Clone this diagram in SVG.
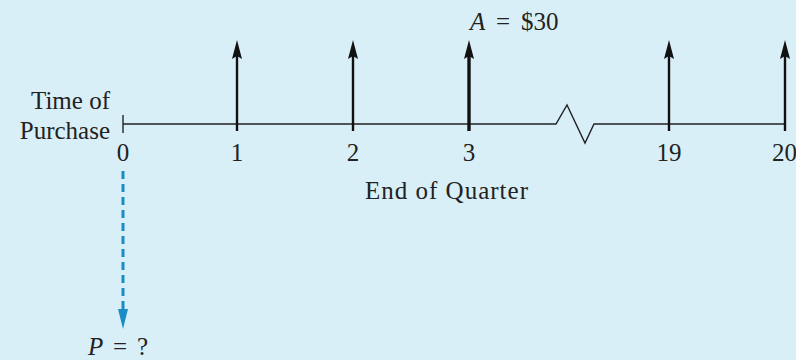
<svg xmlns="http://www.w3.org/2000/svg" width="796" height="360" viewBox="0 0 796 360">
<defs>
<path id="head" d="M0 0 L5 19 L0 16 L-5 19 Z" fill="#111"/>
<style>
text{font-family:"Liberation Serif","Times New Roman",serif;font-size:25px;fill:#222}
.arr{stroke:#111;stroke-width:2.4;fill:none}
.ax{stroke:#222;stroke-width:1.4;fill:none}
.c{text-anchor:middle}
</style>
</defs>
<rect width="796" height="360" fill="#d9eff7"/>
<g id="axis">
<path class="ax" d="M123 124 H556 L567 105 L585 143 L594 124 H785"/>
<path class="ax" d="M123 115 V133"/>
</g>
<g id="connectors">
<line class="arr" x1="237" y1="131" x2="237" y2="52"/>
<use href="#head" x="237" y="40"/>
<line class="arr" x1="353" y1="131" x2="353" y2="52"/>
<use href="#head" x="353" y="40"/>
<line class="arr" x1="469" y1="131" x2="469" y2="52" style="stroke-width:3.4"/>
<use href="#head" x="469" y="40"/>
<line class="arr" x1="669" y1="131" x2="669" y2="52"/>
<use href="#head" x="669" y="40"/>
<line class="arr" x1="785" y1="131" x2="785" y2="52"/>
<use href="#head" x="785" y="40"/>
<line x1="123" y1="171" x2="123" y2="312" stroke="#1c8cc4" stroke-width="3" stroke-dasharray="8,5"/>
<path d="M118 309 L123 329 L128 309 Z" fill="#1c8cc4"/>
</g>
<g id="labels">
<text x="110" y="109" text-anchor="end">Time of</text>
<text x="110" y="139" text-anchor="end">Purchase</text>
<text class="c" x="123" y="161">0</text>
<text class="c" x="237" y="161">1</text>
<text class="c" x="353" y="161">2</text>
<text class="c" x="469" y="161">3</text>
<text class="c" x="669" y="161">19</text>
<text x="772" y="161">20</text>
<text y="30"><tspan x="470" font-style="italic">A</tspan><tspan x="496">=</tspan><tspan x="521">$30</tspan></text>
<text class="c" x="447" y="199" letter-spacing="1">End of Quarter</text>
<text y="355"><tspan x="88" font-style="italic">P</tspan><tspan x="113">=</tspan><tspan x="137">?</tspan></text>
</g>
</svg>
